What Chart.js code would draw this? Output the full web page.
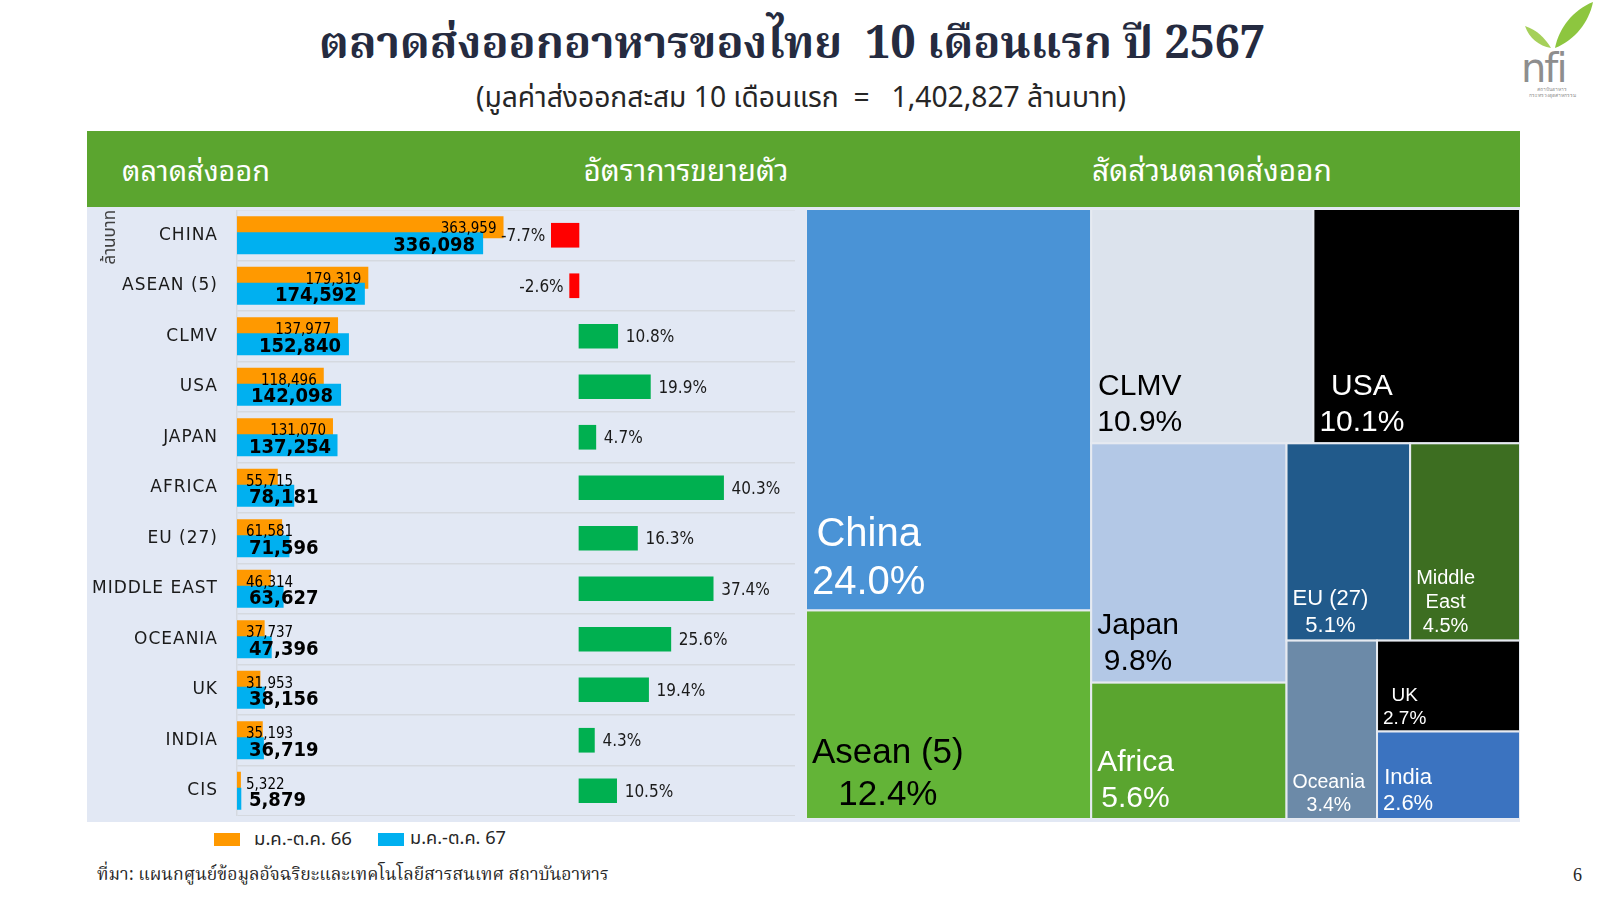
<!DOCTYPE html>
<html lang="th"><head><meta charset="utf-8">
<script src="https://cdn.jsdelivr.net/npm/chart.js@4.4.1/dist/chart.umd.min.js"></script>
<style>
html,body{margin:0;padding:0;background:#fff;}
body{width:1600px;height:900px;position:relative;overflow:hidden;font-family:'DejaVu Sans',sans-serif;}
.a{position:absolute;white-space:nowrap;line-height:1;}
.c{transform:translate(-50%,-50%);}
.l{transform:translate(0,-50%);}
#title{left:792px;top:46px;font-weight:bold;font-size:46px;font-family:'Noto Serif Thai','Norasi','Laksaman','DejaVu Serif',serif;color:#252B40;}
#subtitle{left:801px;top:99px;font-size:26px;font-family:'Noto Sans Thai','Loma','Tahoma','DejaVu Sans',sans-serif;color:#262626;}
#band{left:87px;top:131px;width:1433px;height:76px;background:#5BA52F;}
.bandtxt{top:168px;color:#fff;font-size:32px;font-family:'Noto Sans Thai Looped','Noto Serif Thai','Norasi','Noto Sans Thai',serif;}
#panel{left:87px;top:207px;width:1433px;height:615px;background:#E2E8F4;}
#barsWrap{left:87px;top:210px;width:708px;height:606px;}
#treeWrap{left:806px;top:209px;width:714px;height:610px;}
.sw{width:26px;height:13px;}
.leg{top:839px;font-size:18px;color:#262626;font-family:'Noto Sans Thai','Loma','Tahoma','DejaVu Sans',sans-serif;}
#source{left:97px;top:876px;font-size:20px;color:#262626;font-family:'Noto Serif Thai','Norasi','DejaVu Serif',serif;}
#page{left:1573px;top:875px;font-size:18px;color:#262626;font-family:'Liberation Serif',serif;}
</style></head>
<body>
<div id="panel" class="a"></div>
<div id="band" class="a"></div>
<div id="title" class="a c" data-w="946">ตลาดส่งออกอาหารของไทย&nbsp;&nbsp;10 เดือนแรก ปี 2567</div>
<div id="subtitle" class="a c" data-w="650"></div>
<div class="a l bandtxt" id="h1" style="left:122px" data-w="148"></div>
<div class="a c bandtxt" id="h2" style="left:686px" data-w="205"></div>
<div class="a c bandtxt" id="h3" style="left:1212px" data-w="240"></div>
<div id="barsWrap" class="a"><canvas id="bars" width="708" height="606"></canvas></div>
<div id="treeWrap" class="a"><canvas id="tree" width="714" height="610"></canvas></div>
<div class="a sw" style="left:214px;top:833px;background:#FF9900"></div>
<div class="a l leg" id="leg1" style="left:254px" data-w="98"></div>
<div class="a sw" style="left:378px;top:833px;background:#00B0F0"></div>
<div class="a l leg" id="leg2" style="left:410px" data-w="96"></div>
<div id="source" class="a l" data-w="512">ที่มา: แผนกศูนย์ข้อมูลอัจฉริยะและเทคโนโลยีสารสนเทศ สถาบันอาหาร</div>
<div id="page" class="a l">6</div>
<svg class="a" style="left:1515px;top:0" width="80" height="100" viewBox="0 0 80 100">
  <path d="M40 48 C44 28 58 10 78 2 C74 22 60 40 40 48 Z" fill="#8DC63F"/>
  <path d="M36 48 C30 38 22 30 10 26 C14 38 24 46 36 48 Z" fill="#A6D05A"/>
  <text x="6" y="82" font-family="DejaVu Sans" font-size="40" fill="#8E8E8E" letter-spacing="-2">nfi</text>
  <text x="22" y="91" font-size="5" fill="#8E8E8E">สถาบันอาหาร</text>
  <text x="14" y="97" font-size="5" fill="#8E8E8E">กระทรวงอุตสาหกรรม</text>
</svg>
<script>
// ---------- data ----------
const categories = ['CHINA','ASEAN (5)','CLMV','USA','JAPAN','AFRICA','EU (27)','MIDDLE EAST','OCEANIA','UK','INDIA','CIS'];
const exports66 = [363959,179319,137977,118496,131070,55715,61581,46314,37737,31953,35193,5322];
const exports67 = [336098,174592,152840,142098,137254,78181,71596,63627,47396,38156,36719,5879];
const growthPct = [-7.7,-2.6,10.8,19.9,4.7,40.3,16.3,37.4,25.6,19.4,4.3,10.5];
const seriesNames = ['ม.ค.-ต.ค. 66','ม.ค.-ต.ค. 67'];
const valueUnit = 'ล้านบาท';
const totalExports67 = '1,402,827';
const shareMarkets = ['China','Asean (5)','CLMV','USA','Japan','Africa','EU (27)','Middle East','Oceania','UK','India'];
const shareValues = [336098,174592,152840,142098,137254,78181,71596,63627,47396,38156,36719];
const sharePct = [24.0,12.4,10.9,10.1,9.8,5.6,5.1,4.5,3.4,2.7,2.6];
const headings = ['ตลาดส่งออก','อัตราการขยายตัว','สัดส่วนตลาดส่งออก'];

// ---------- styles ----------
const treeFill = ['#4A93D6','#63B437','#DCE3ED','#000000','#B3C8E6','#5AA52F','#215A8B','#3D6E21','#6C8AA8','#000000','#3B73C0'];
const treeText = ['#FFFFFF','#000000','#000000','#FFFFFF','#000000','#FFFFFF','#FFFFFF','#FFFFFF','#FFFFFF','#FFFFFF','#FFFFFF'];
const treeFont = [40,35,30,30,30,30,22,20,19.5,19,22];

document.getElementById('subtitle').textContent = '(มูลค่าส่งออกสะสม 10 เดือนแรก  =   ' + totalExports67 + ' ' + valueUnit + ')';
document.getElementById('subtitle').style.whiteSpace = 'pre';
document.getElementById('h1').textContent = headings[0];
document.getElementById('h2').textContent = headings[1];
document.getElementById('h3').textContent = headings[2];
document.getElementById('leg1').textContent = seriesNames[0];
document.getElementById('leg2').textContent = seriesNames[1];

document.querySelectorAll('[data-w]').forEach(el => {
  const target = +el.dataset.w;
  const w = el.getBoundingClientRect().width;
  if (w > 0) {
    const fs = parseFloat(getComputedStyle(el).fontSize);
    el.style.fontSize = (fs * target / w).toFixed(2) + 'px';
  }
});

const fmt = v => v.toLocaleString('en-US');
const NUMFONT = "'DejaVu Sans Condensed','DejaVu Sans',sans-serif";

const barPlugin = {
  id: 'barPlugin',
  beforeDraw(chart) {
    const s = chart.scales.y;
    if (!s._ls) {
      const orig = s.drawLabels.bind(s);
      s.drawLabels = function(a) { const c = chart.ctx; c.save(); c.letterSpacing = '1px'; orig(a); c.restore(); };
      s._ls = true;
    }
  },
  beforeDatasetDraw(chart, args) {
    if (args.index === 1 && !chart._manual) return false;
  },
  afterDatasetsDraw(chart) {
    const ctx = chart.ctx;
    chart._manual = true;
    chart.getDatasetMeta(1).controller.draw();
    chart._manual = false;
    const m0 = chart.getDatasetMeta(0), m1 = chart.getDatasetMeta(1), m2 = chart.getDatasetMeta(2);
    const left = chart.chartArea.left;
    ctx.save();
    ctx.fillStyle = '#000';
    ctx.textBaseline = 'alphabetic';
    for (let i = 0; i < categories.length; i++) {
      const b0 = m0.data[i], b1 = m1.data[i], b2 = m2.data[i];
      // orange labels
      ctx.font = "15px " + NUMFONT;
      ctx.textAlign = 'left';
      let t = fmt(exports66[i]);
      let w = ctx.measureText(t).width;
      let x = Math.max(b0.x - 7 - w, left + 9);
      ctx.fillText(t, x, b1.y - b1.height / 2 + 1);
      // blue labels
      ctx.font = "bold 20px " + NUMFONT;
      t = fmt(exports67[i]);
      w = ctx.measureText(t).width;
      x = Math.max(b1.x - 8 - w, left + 12);
      ctx.fillText(t, x, b1.y + 7.3);
      // growth labels
      ctx.font = "17px " + NUMFONT;
      ctx.fillStyle = '#1A1A1A';
      t = growthPct[i].toFixed(1) + '%';
      if (growthPct[i] < 0) { ctx.textAlign = 'right'; ctx.fillText(t, b2.x - 6, b2.y + 6); }
      else { ctx.textAlign = 'left'; ctx.fillText(t, b2.x + 8, b2.y + 6); }
      ctx.fillStyle = '#000';
    }
    ctx.restore();
  }
};

new Chart(document.getElementById('bars'), {
  type: 'bar',
  data: {
    labels: categories,
    datasets: [
      { label: seriesNames[0], data: exports66, backgroundColor: '#FF9900', categoryPercentage: 0.634, barPercentage: 1.375 },
      { label: seriesNames[1], data: exports67, backgroundColor: '#00B0F0', categoryPercentage: 0.634, barPercentage: 1.375 },
      { label: 'growth', data: growthPct, xAxisID: 'x2', grouped: false, barThickness: 24,
        backgroundColor: growthPct.map(v => v < 0 ? '#FF0000' : '#00B050') }
    ]
  },
  options: {
    indexAxis: 'y', responsive: false, animation: false,
    layout: { padding: 0 },
    plugins: { legend: { display: false }, tooltip: { enabled: false } },
    scales: {
      x: { type: 'linear', min: 0, max: 762000, display: false },
      x2: { type: 'linear', min: -95.3, max: 60.2, display: false },
      y: {
        type: 'category', offset: true,
        grid: { offset: true, color: '#D5D9E0', lineWidth: 1.5, drawTicks: false },
        border: { color: '#D5D9E0', width: 1.5 },
        ticks: { color: '#1A1A1A', font: { family: 'DejaVu Sans', size: 17 }, padding: 19, autoSkip: false },
        title: { display: true, text: valueUnit, align: 'end', color: '#404040',
                 font: { size: 17, family: "'Noto Sans Thai','Loma','DejaVu Sans',sans-serif" }, padding: { top: 14, bottom: 0 } },
        afterFit(s) { s.width = 150; s.paddingTop = 0; s.paddingBottom = 0; }
      }
    }
  },
  plugins: [barPlugin]
});

// ---------- treemap ----------
function worst(row, side) {
  const s = row.reduce((a, b) => a + b, 0);
  const mx = Math.max(...row), mn = Math.min(...row);
  return Math.max(side * side * mx / (s * s), (s * s) / (side * side * mn));
}
function squarify(values, rect) {
  const total = values.reduce((a, b) => a + b, 0);
  const k = rect.w * rect.h / total;
  const areas = values.map(v => v * k);
  const out = [];
  let r = { ...rect }, i = 0;
  while (i < areas.length) {
    const side = Math.min(r.w, r.h);
    let row = [areas[i]], best = worst(row, side), j = i + 1;
    while (j < areas.length) {
      const cand = row.concat(areas[j]);
      const wv = worst(cand, side);
      if (wv <= best) { row = cand; best = wv; j++; } else break;
    }
    const sum = row.reduce((a, b) => a + b, 0);
    const thick = sum / side;
    if (r.w >= r.h) {
      let y = r.y;
      row.forEach(a => { const h = a / thick; out.push({ x: r.x, y, w: thick, h }); y += h; });
      r = { x: r.x + thick, y: r.y, w: r.w - thick, h: r.h };
    } else {
      let x = r.x;
      row.forEach(a => { const w = a / thick; out.push({ x, y: r.y, w, h: thick }); x += w; });
      r = { x: r.x, y: r.y + thick, w: r.w, h: r.h - thick };
    }
    i = j;
  }
  return out;
}
const treePlugin = {
  id: 'treePlugin',
  afterDraw(chart) {
    const ctx = chart.ctx, xs = chart.scales.x, ys = chart.scales.y;
    const x0 = xs.getPixelForValue(0), x1 = xs.getPixelForValue(1);
    const y0 = ys.getPixelForValue(1), y1 = ys.getPixelForValue(0);
    const cells = squarify(shareValues, { x: x0, y: y0, w: x1 - x0, h: y1 - y0 });
    ctx.save();
    cells.forEach((c, i) => {
      ctx.fillStyle = treeFill[i];
      ctx.fillRect(c.x, c.y, c.w, c.h);
      ctx.strokeStyle = '#E6EAF1';
      ctx.lineWidth = 2;
      ctx.strokeRect(c.x, c.y, c.w, c.h);
      const fs = treeFont[i];
      ctx.font = fs + "px 'Liberation Sans', Arial, sans-serif";
      let lines = [shareMarkets[i]];
      if (ctx.measureText(shareMarkets[i]).width > c.w - 10) lines = shareMarkets[i].split(' ');
      lines.push(sharePct[i].toFixed(1) + '%');
      const bw = Math.max(...lines.map(l => ctx.measureText(l).width));
      const cx = c.x + 6 + bw / 2;
      const lh = fs * 1.2;
      let base = c.y + c.h - 0.41 * fs - (lines.length - 1) * lh;
      ctx.fillStyle = treeText[i];
      ctx.textAlign = 'center';
      ctx.textBaseline = 'alphabetic';
      lines.forEach((l, k) => ctx.fillText(l, cx, base + k * lh));
    });
    ctx.restore();
  }
};
new Chart(document.getElementById('tree'), {
  type: 'scatter',
  data: { datasets: [] },
  options: {
    responsive: false, animation: false, layout: { padding: 0 },
    plugins: { legend: { display: false }, tooltip: { enabled: false } },
    scales: { x: { type: 'linear', min: 0, max: 1, display: false }, y: { type: 'linear', min: 0, max: 1, display: false } }
  },
  plugins: [treePlugin]
});
</script>
</body></html>
